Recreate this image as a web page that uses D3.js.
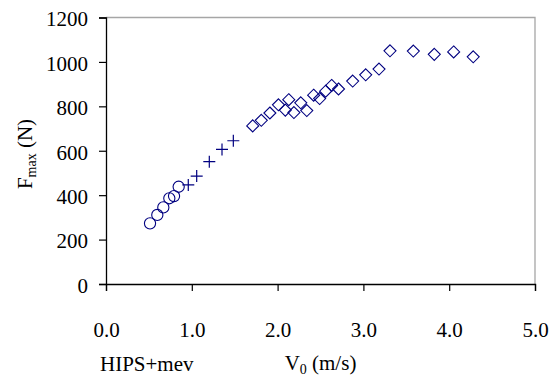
<!DOCTYPE html>
<html>
<head>
<meta charset="utf-8">
<script src="https://cdn.jsdelivr.net/npm/d3@7"></script>
<style>
  html, body { margin: 0; padding: 0; background: #fff; }
  svg text { font-family: "Liberation Serif", "Times New Roman", Times, "DejaVu Serif", "Noto Serif", serif; fill: #000; }
</style>
</head>
<body>
<svg id="chart" width="559" height="376"></svg>
<script>
// Peak force vs. impact velocity, three test groups
const circleV = [0.513, 0.598, 0.668, 0.738, 0.793, 0.847];
const circleF = [273, 311, 345, 386, 396, 438];

const crossV = [0.959, 1.057, 1.204, 1.352, 1.484];
const crossF = [446, 486, 551, 606, 645];

const diamondV = [1.71, 1.81, 1.91, 2.01, 2.09, 2.13, 2.19, 2.27, 2.34, 2.42, 2.49, 2.56, 2.63, 2.71, 2.875, 3.027, 3.182, 3.31, 3.582, 3.826, 4.052, 4.28];
const diamondF = [712, 737, 770, 807, 783, 830, 772, 816, 781, 850, 835, 868, 894, 878, 914, 942, 968, 1050, 1049, 1034, 1045, 1023];

const xTicks = [0, 1, 2, 3, 4, 5];
const yTicks = [0, 200, 400, 600, 800, 1000, 1200];

const svg = d3.select("#chart");
const plotL = 106, plotR = 535, plotT = 17.5, plotB = 284;

const x = d3.scaleLinear().domain([0, 5]).range([plotL, plotR]);
const y = d3.scaleLinear().domain([0, 1200]).range([plotB, plotT]);

// grey frame on top and right
svg.append("path")
  .attr("d", `M${plotL},${plotT}H${plotR}V${plotB}`)
  .attr("fill", "none").attr("stroke", "#a6a6a6").attr("stroke-width", 1.3);

// y axis
const yAxis = svg.append("g").attr("transform", `translate(${plotL},0)`)
  .call(d3.axisLeft(y).tickValues(yTicks).tickSize(7).tickPadding(11).tickFormat(d3.format("d")));
yAxis.attr("font-family", null);
yAxis.select(".domain").attr("stroke", "#000").attr("stroke-width", 1.3);
yAxis.selectAll(".tick line").attr("stroke", "#000").attr("stroke-width", 1.2);
yAxis.selectAll(".tick text").attr("font-size", 21).attr("dy", "0.4em");

// x axis
const xAxis = svg.append("g").attr("transform", `translate(0,${plotB})`)
  .call(d3.axisBottom(x).tickValues(xTicks).tickSize(7).tickPadding(31).tickFormat(d3.format(".1f")));
xAxis.attr("font-family", null);
xAxis.select(".domain").attr("stroke", "#000").attr("stroke-width", 1.3);
xAxis.selectAll(".tick line").attr("stroke", "#000").attr("stroke-width", 1.2);
xAxis.selectAll(".tick text").attr("font-size", 21);

const col = "#000080";
const pts = (vs, fs) => vs.map((v, i) => ({ v, f: fs[i] }));

// circles
svg.append("g").selectAll("circle").data(pts(circleV, circleF)).join("circle")
  .attr("cx", d => x(d.v)).attr("cy", d => y(d.f)).attr("r", 5.6)
  .attr("fill", "none").attr("stroke", col).attr("stroke-width", 1.1);

// crosses
svg.append("g").selectAll("path").data(pts(crossV, crossF)).join("path")
  .attr("d", d => { const cx = x(d.v), cy = y(d.f), s = 6;
    return `M${cx - s},${cy}H${cx + s}M${cx},${cy - s}V${cy + s}`; })
  .attr("fill", "none").attr("stroke", col).attr("stroke-width", 1.2);

// diamonds
svg.append("g").selectAll("path").data(pts(diamondV, diamondF)).join("path")
  .attr("d", d => { const cx = x(d.v), cy = y(d.f), s = 6;
    return `M${cx},${cy - s}L${cx + s},${cy}L${cx},${cy + s}L${cx - s},${cy}Z`; })
  .attr("fill", "none").attr("stroke", col).attr("stroke-width", 1.1);

// axis titles
const xt = svg.append("text").attr("x", (plotL + plotR) / 2).attr("y", 370)
  .attr("text-anchor", "middle").attr("font-size", 21);
xt.append("tspan").text("V");
xt.append("tspan").attr("font-size", 14).attr("dy", 4).text("0");
xt.append("tspan").attr("dy", -4).text(" (m/s)");

const yt = svg.append("text").attr("transform", "translate(32,154) rotate(-90)")
  .attr("text-anchor", "middle").attr("font-size", 21);
yt.append("tspan").text("F");
yt.append("tspan").attr("font-size", 14).attr("dy", 4).text("max");
yt.append("tspan").attr("dy", -4).text(" (N)");

svg.append("text").attr("x", 100).attr("y", 371).attr("font-size", 21).text("HIPS+mev");
</script>
</body>
</html>
